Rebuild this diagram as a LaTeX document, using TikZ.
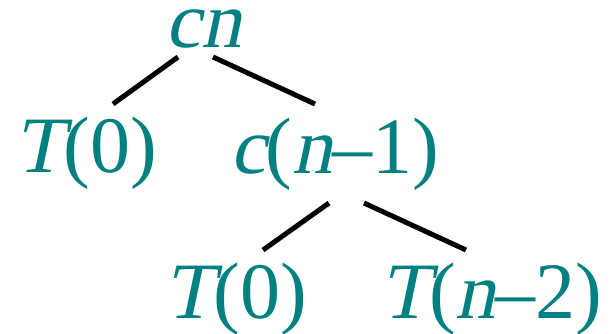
\documentclass[tikz,border=0pt]{standalone}
\usepackage{fontspec}
\setmainfont{Liberation Serif}
\newfontfamily\slantserif{Liberation Serif}[FakeSlant=0.21]
\newcommand{\termvar}[1]{{\slantserif #1}}
\usepackage{xcolor}
\usepackage{tikz}
\usetikzlibrary{calc}
\definecolor{termTeal}{RGB}{0,128,128}

\begin{document}
\begin{tikzpicture}[x=1pt,y=-1pt,
    term/.style={text=termTeal, inner sep=0pt, anchor=base, font=\rmfamily\fontsize{80}{96}\selectfont},
    branch/.style={black, line width=5pt}]
\useasboundingbox (0,0) rectangle (612,334);
% recursion tree
\node[term] (cn) at (203.5,48) {\termvar{cn}};
\node[term] (tzeroA) at (86,172) {\termvar{T}(0)};
\node[term] (cnone) at (334.5,173) {\termvar{c}(\termvar{n}--1)};
\node[term] (tzeroB) at (236,318) {\termvar{T}(0)};
\node[term] (tntwo) at (491.5,318) {\termvar{T}(\termvar{n}--2)};
\draw[branch] ($(cn.base)+(-25.5,9)$) -- ($(tzeroA.base)+(27,-68)$);
\draw[branch] ($(cn.base)+(9.5,9)$) -- ($(cnone.base)+(-19.5,-69)$);
\draw[branch] ($(cnone.base)+(-5.5,30)$) -- ($(tzeroB.base)+(27,-68)$);
\draw[branch] ($(cnone.base)+(29.5,30)$) -- ($(tntwo.base)+(-25.5,-68)$);
\end{tikzpicture}
\end{document}
